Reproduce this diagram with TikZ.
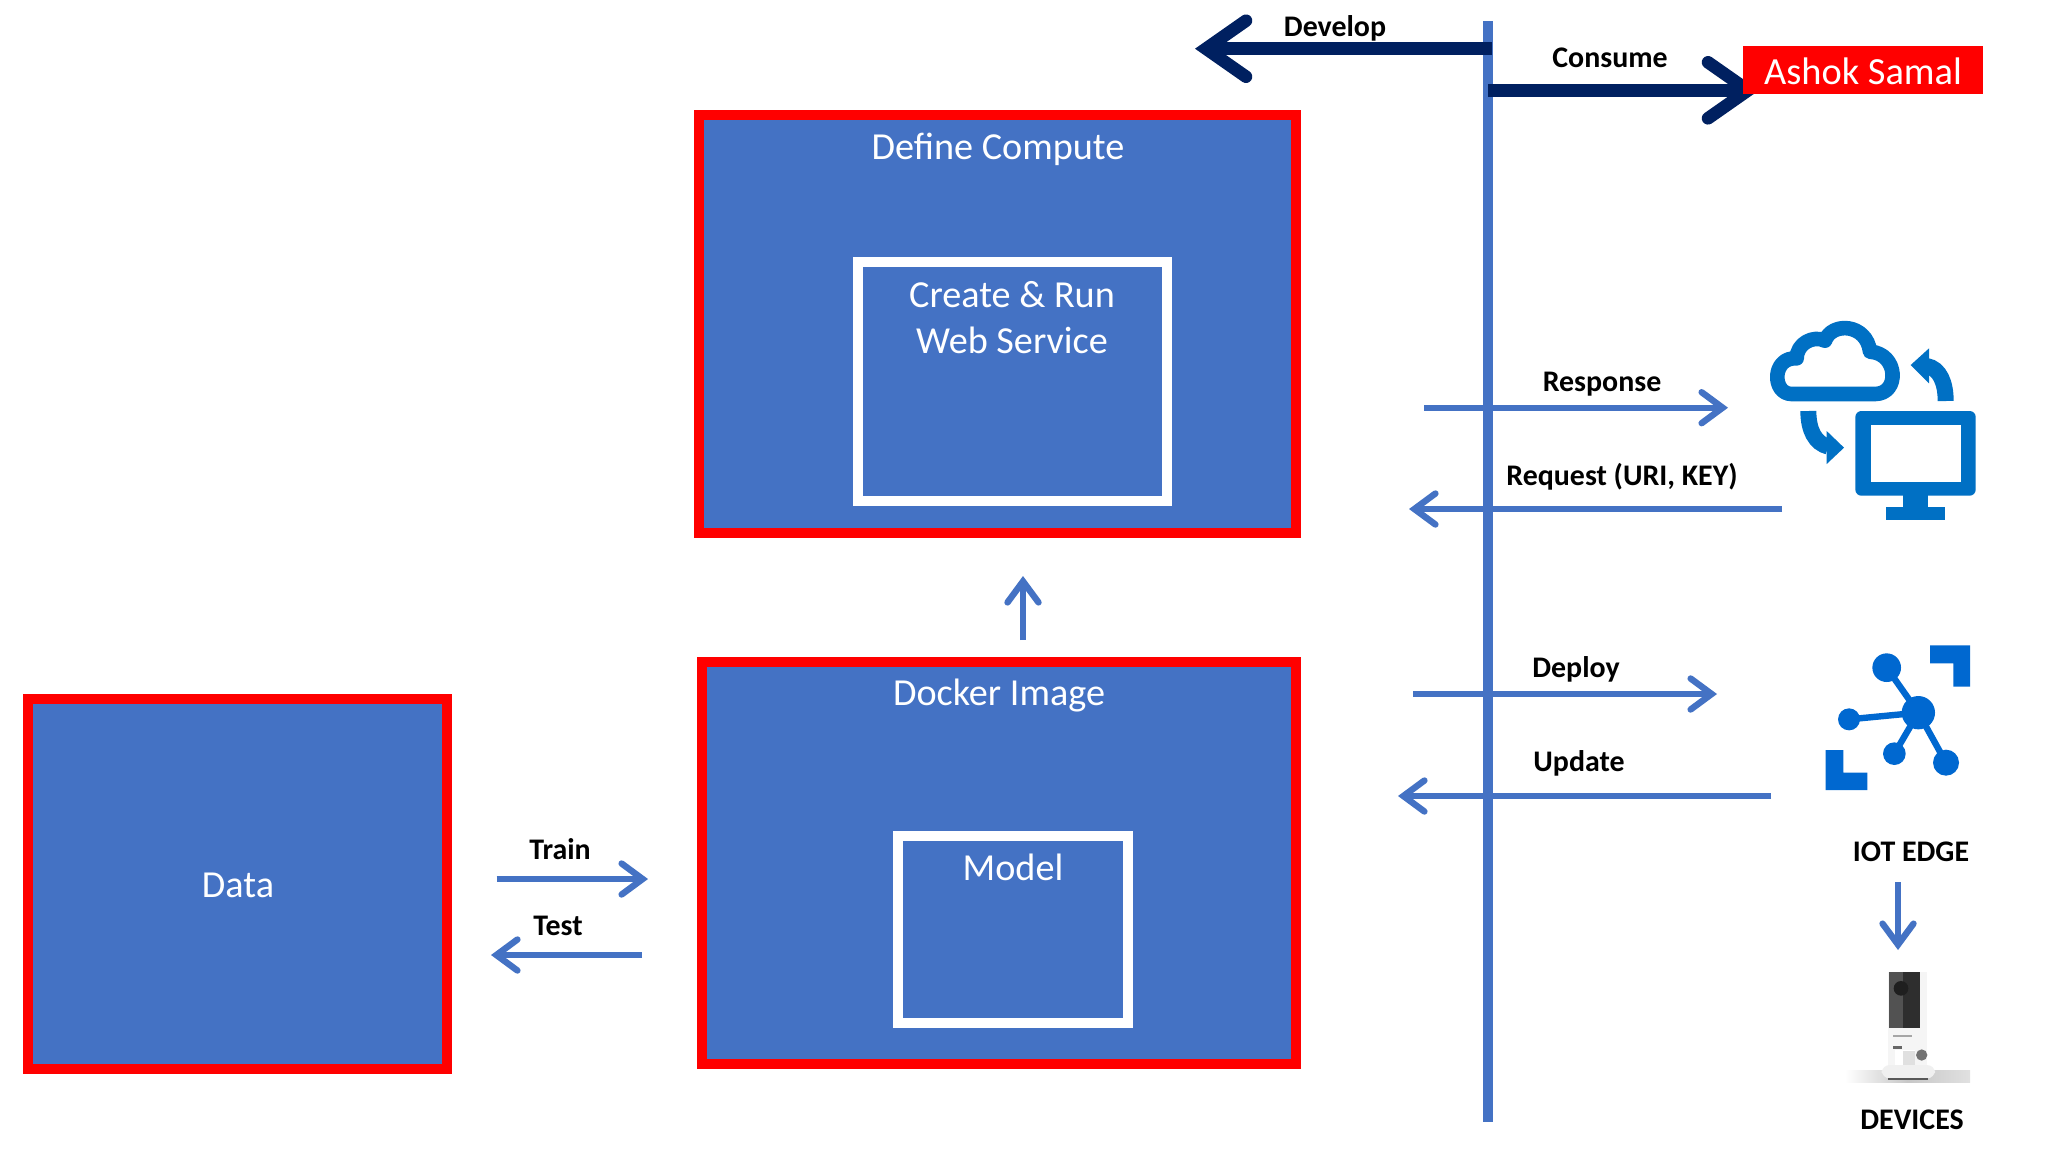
\documentclass[tikz,border=0pt]{standalone}
\usepackage{fontspec}
\setmainfont{Carlito}
\usetikzlibrary{arrows.meta}
\definecolor{boxblue}{HTML}{4472C4}
\definecolor{navyline}{HTML}{002060}
\definecolor{iconblue}{HTML}{0070C4}
\definecolor{edgeblue}{HTML}{0068D0}
\tikzset{
  x=0.5pt,y=-0.5pt,
  redbox/.style={draw=red,fill=boxblue,line width=5pt,inner sep=0pt,outer sep=0pt},
  whitebox/.style={draw=white,fill=boxblue,line width=5pt,inner sep=0pt,outer sep=0pt},
  boxtext/.style={text=white,font=\fontsize{19.1}{22}\selectfont,inner sep=0pt},
  lbl/.style={text=black,font=\bfseries\fontsize{14.95}{17}\selectfont,inner sep=0pt},
  flow/.style={draw=boxblue,line width=3.2pt,-{Straight Barb[length=10.5pt,width=15.5pt,line cap=round,line join=miter]}},
  heavy/.style={draw=navyline,line width=6.3pt,-{Straight Barb[length=20pt,width=28pt,line cap=round,line join=miter]}},
}
\begin{document}
\begin{tikzpicture}
\useasboundingbox (0,0) rectangle (2048,1152);
\fill[white] (0,0) rectangle (2048,1152);

% boxes
\node[redbox,minimum width=298.5pt,minimum height=209pt] (define) at (997.5,324) {};
\node[whitebox,minimum width=154.5pt,minimum height=119.5pt] (create) at (1012.5,381.5) {};
\node[redbox,minimum width=297pt,minimum height=201pt] (docker) at (999,862.75) {};
\node[whitebox,minimum width=115pt,minimum height=93.5pt] (model) at (1012.5,929.5) {};
\node[redbox,minimum width=209.5pt,minimum height=185pt] (data) at (237.5,884) {};

% box texts
\node[boxtext] (tdefine) at (998,149) {Define Compute};
\node[boxtext] (tcreate) at (1012,294.5) {Create \& Run};
\node[boxtext] (tweb) at (1012,340) {Web Service};
\node[boxtext] (tdocker) at (999,696) {Docker Image};
\node[boxtext] (tmodel) at (1013,867) {Model};
\node[boxtext] (tdata) at (238,885.5) {Data};

% coordinates
\coordinate (axisT) at (1488,21);
\coordinate (axisB) at (1488,1122);
\coordinate (upA) at (1023,640);
\coordinate (upB) at (1023,576);
\coordinate (trainA) at (496.5,879);
\coordinate (trainB) at (648,879);
\coordinate (testA) at (642,955);
\coordinate (testB) at (491,955);
\coordinate (respA) at (1424,407.7);
\coordinate (respB) at (1728,407.7);
\coordinate (reqA) at (1782,509);
\coordinate (reqB) at (1409,509);
\coordinate (depA) at (1413,694);
\coordinate (depB) at (1717,694);
\coordinate (updA) at (1771,796);
\coordinate (updB) at (1398,796);
\coordinate (devA) at (1492,48.7);
\coordinate (devB) at (1195,48.7);
\coordinate (conA) at (1488,90.3);
\coordinate (conB) at (1759,90.3);
\coordinate (iotA) at (1898,882);
\coordinate (iotB) at (1898,950);

% axis and connectors
\draw[draw=boxblue,line width=4.6pt] (axisT) -- (axisB);
\draw[flow] (upA) -- (upB);
\draw[flow] (trainA) -- (trainB);
\draw[flow] (testA) -- (testB);
\draw[flow] (respA) -- (respB);
\draw[flow] (reqA) -- (reqB);
\draw[flow] (depA) -- (depB);
\draw[flow] (updA) -- (updB);
\draw[flow] (iotA) -- (iotB);
\draw[heavy] (devA) -- (devB);
\draw[heavy] (conA) -- (conB);

% Ashok box
\node[fill=red,draw=none,inner sep=0pt,outer sep=0pt,minimum width=120.2pt,minimum height=24pt] (ashok) at (1863,70) {};
\node[text=white,inner sep=0pt,font=\fontsize{19.2}{22}\selectfont] (tashok) at (1863,71) {Ashok Samal};

% labels
\node[lbl] (ldev) at (1335,28) {Develop};
\node[lbl] (lcon) at (1610,58) {Consume};
\node[lbl] (lresp) at (1602,384) {Response};
\node[lbl] (lreq) at (1622,477) {Request (URI, KEY)};
\node[lbl] (ldep) at (1576,669.5) {Deploy};
\node[lbl] (lupd) at (1579,763.5) {Update};
\node[lbl] (ltrain) at (560,849) {Train};
\node[lbl] (ltest) at (558,926) {Test};
\node[lbl] (liot) at (1911,851.5) {IOT EDGE};
\node[lbl] (ldevs) at (1912,1120) {DEVICES};

% cloud and monitor icon
\begin{scope}[shift={(1700,300)},x=0.16667pt,y=-0.16667pt]
\draw[iconblue,line width=7.3pt,line join=round]
  (275,282) .. controls (215,282) and (215,170) .. (290,175)
  .. controls (290,130) and (340,105) .. (375,122)
  .. controls (395,65) and (500,70) .. (510,155)
  .. controls (595,160) and (600,282) .. (525,282) -- cycle;
\draw[iconblue,line width=8pt] (737,303) .. controls (737,250) and (720,205) .. (680,198);
\fill[iconblue] (687,145) -- (632,195) -- (687,250) -- cycle;
\draw[iconblue,line width=8pt] (325,333) .. controls (325,390) and (345,430) .. (385,440);
\fill[iconblue] (380,393) -- (432,443) -- (380,492) -- cycle;
\fill[iconblue,rounded corners=3pt] (466,333) rectangle (827,587);
\fill[white] (514,376) rectangle (782,545);
\fill[iconblue] (610,580) rectangle (684,625);
\fill[iconblue] (558,620) rectangle (736,661);
\end{scope}

% IoT edge icon
\begin{scope}[shift={(1800,630)},x=0.16667pt,y=-0.16667pt]
\fill[edgeblue] (390,46) -- (510,46) -- (510,170) -- (460,170) -- (460,100) -- (390,100) -- cycle;
\fill[edgeblue] (77,360) -- (130,360) -- (130,428) -- (202,428) -- (202,480) -- (77,480) -- cycle;
\draw[edgeblue,line width=3.2pt] (355,248) -- (260,113);
\draw[edgeblue,line width=3.2pt] (355,248) -- (147,268);
\draw[edgeblue,line width=3.2pt] (355,248) -- (283,371);
\draw[edgeblue,line width=3.2pt] (355,248) -- (438,398);
\fill[edgeblue] (260,113) circle[radius=43];
\fill[edgeblue] (147,268) circle[radius=33];
\fill[edgeblue] (355,248) circle[radius=50];
\fill[edgeblue] (283,371) circle[radius=34];
\fill[edgeblue] (438,398) circle[radius=39];

% device photo
\shade[left color=white,right color=black!12,middle color=black!22] (135,1320) rectangle (510,1356);
\fill[black!4] (265,1025) rectangle (380,1310);
\fill[black!82] (268,1025) rectangle (360,1195);
\fill[black!68] (268,1025) rectangle (310,1195);
\fill[black!88] (303,1075) circle[radius=22];
\fill[black!35] (278,1215) rectangle (335,1221);
\fill[black!60] (278,1247) rectangle (305,1256);
\fill[white] (285,1260) rectangle (345,1312);
\fill[black!12] (310,1262) rectangle (345,1305);
\fill[black!55] (365,1275) circle[radius=17];
\fill[black!6,rounded corners=4pt] (245,1305) rectangle (405,1345);
\fill[black!65] (265,1345) rectangle (385,1351);
\end{scope}
\end{tikzpicture}
\end{document}
